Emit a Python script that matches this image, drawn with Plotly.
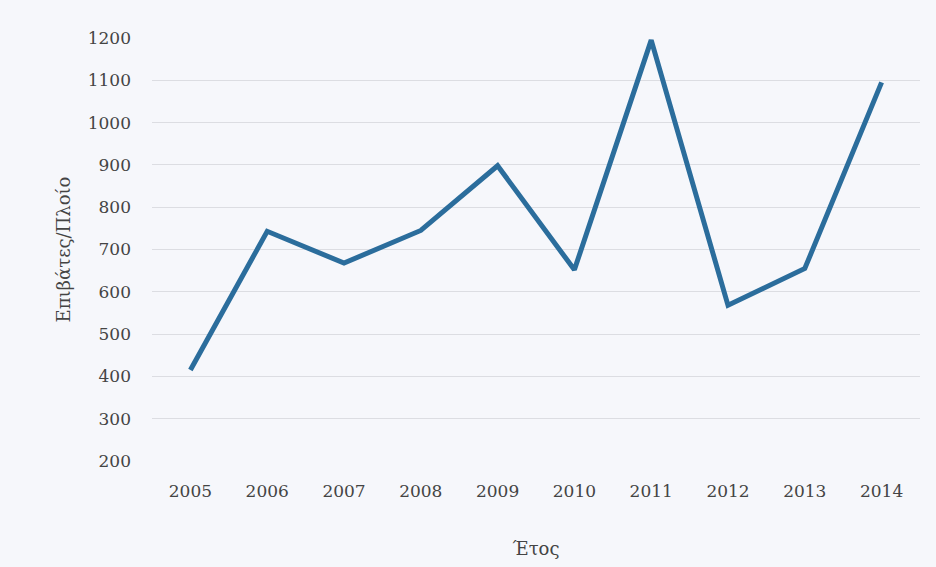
import plotly.graph_objects as go

years = ["2005", "2006", "2007", "2008", "2009", "2010", "2011", "2012", "2013", "2014"]
passengers_per_ship = [415, 743, 668, 745, 898, 652, 1195, 568, 655, 1095]
y_ticks = [200, 300, 400, 500, 600, 700, 800, 900, 1000, 1100, 1200]

font_family = "DejaVu Serif"

fig = go.Figure()
fig.add_trace(go.Scatter(
    x=years, y=passengers_per_ship, mode="lines",
    line=dict(color="#2b6d9c", width=5),
    showlegend=False,
))

fig.update_layout(
    width=936, height=567,
    margin=dict(l=152, r=16, t=38, b=106),
    paper_bgcolor="#f6f7fb", plot_bgcolor="#f6f7fb",
    font=dict(family=font_family, size=17, color="#444444"),
    xaxis=dict(
        type="category", range=[-0.5, 9.5], showgrid=False, zeroline=False,
        showline=False, ticks="", ticklabelstandoff=18,
        title=dict(text="Έτος", font=dict(size=18, color="#444444"), standoff=42),
    ),
    yaxis=dict(
        range=[200, 1200], tickvals=y_ticks, showgrid=True, gridcolor="#dcdde2",
        gridwidth=1, zeroline=False, showline=False, ticks="", ticklabelstandoff=20,
        title=dict(text="Επιβάτες/Πλοίο", font=dict(size=18, color="#444444"), standoff=12),
    ),
)

fig.write_html("out.html")
